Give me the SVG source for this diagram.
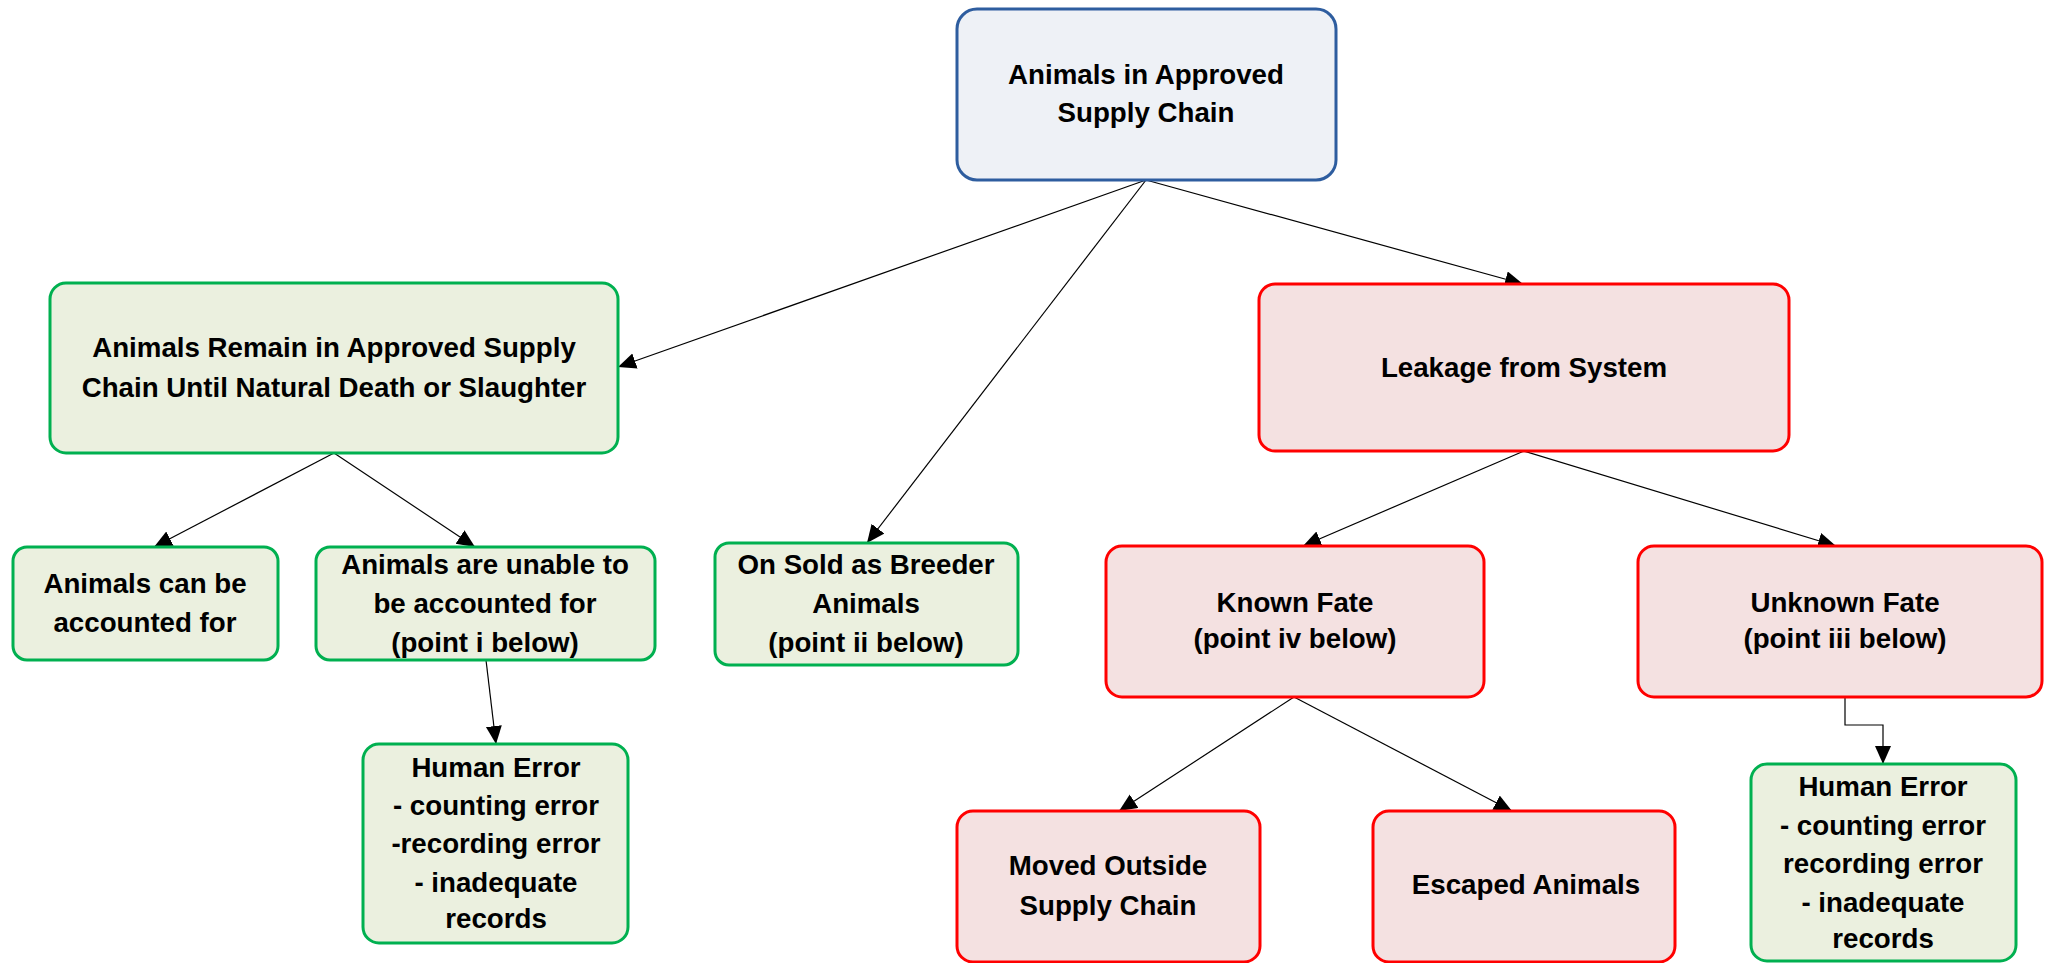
<svg xmlns="http://www.w3.org/2000/svg" width="2045" height="963" viewBox="0 0 2045 963">
<style>
.t{font-family:"Liberation Sans",Arial,sans-serif;font-weight:bold;font-size:27.7px;fill:#000;text-anchor:middle}
.blue{fill:#EEF1F6;stroke:#2E5D9F;stroke-width:3}
.green{fill:#EBF0DF;stroke:#00B050;stroke-width:3}
.red{fill:#F4E1E1;stroke:#FF0000;stroke-width:3}
.c{fill:none;stroke:#000;stroke-width:1.2;marker-end:url(#ah)}
</style>
<defs>
<marker id="ah" markerUnits="userSpaceOnUse" markerWidth="20" markerHeight="18" refX="18" refY="8" orient="auto">
<path d="M0,0 L18,8 L0,16 z" fill="#000"/>
</marker>
</defs>
<rect width="2045" height="963" fill="#fff"/>
<g id="connectors">
<line class="c" x1="1146" y1="180" x2="618" y2="367"/>
<line class="c" x1="1146" y1="180" x2="867" y2="543"/>
<line class="c" x1="1146" y1="180" x2="1523" y2="284"/>
<line class="c" x1="334" y1="453" x2="154" y2="547"/>
<line class="c" x1="334" y1="453" x2="475" y2="547"/>
<line class="c" x1="486" y1="660" x2="496" y2="744"/>
<line class="c" x1="1524" y1="451" x2="1303" y2="546"/>
<line class="c" x1="1524" y1="451" x2="1836" y2="546"/>
<line class="c" x1="1294" y1="697" x2="1119" y2="811"/>
<line class="c" x1="1294" y1="697" x2="1512" y2="811"/>
<polyline class="c" points="1845,697 1845,725 1883,725 1883,764"/>
</g>
<g id="n-top">
<rect class="blue" x="957" y="9" width="379" height="171" rx="20"/>
<text class="t" x="1146" y="84">Animals in Approved</text>
<text class="t" x="1146" y="122">Supply Chain</text>
</g>
<g id="n-remain">
<rect class="green" x="50" y="283" width="568" height="170" rx="16"/>
<text class="t" x="334" y="357">Animals Remain in Approved Supply</text>
<text class="t" x="334" y="397">Chain Until Natural Death or Slaughter</text>
</g>
<g id="n-leakage">
<rect class="red" x="1259" y="284" width="530" height="167" rx="16"/>
<text class="t" x="1524" y="377">Leakage from System</text>
</g>
<g id="n-can">
<rect class="green" x="13" y="547" width="265" height="113" rx="14"/>
<text class="t" x="145" y="593">Animals can be</text>
<text class="t" x="145" y="632">accounted for</text>
</g>
<g id="n-unable">
<rect class="green" x="316" y="547" width="339" height="113" rx="14"/>
<text class="t" x="485" y="574">Animals are unable to</text>
<text class="t" x="485" y="613">be accounted for</text>
<text class="t" x="485" y="652">(point i below)</text>
</g>
<g id="n-breeder">
<rect class="green" x="715" y="543" width="303" height="122" rx="14"/>
<text class="t" x="866" y="574">On Sold as Breeder</text>
<text class="t" x="866" y="613">Animals</text>
<text class="t" x="866" y="652">(point ii below)</text>
</g>
<g id="n-known">
<rect class="red" x="1106" y="546" width="378" height="151" rx="16"/>
<text class="t" x="1295" y="612">Known Fate</text>
<text class="t" x="1295" y="648">(point iv below)</text>
</g>
<g id="n-unknown">
<rect class="red" x="1638" y="546" width="404" height="151" rx="16"/>
<text class="t" x="1845" y="612">Unknown Fate</text>
<text class="t" x="1845" y="648">(point iii below)</text>
</g>
<g id="n-human1">
<rect class="green" x="363" y="744" width="265" height="199" rx="16"/>
<text class="t" x="496" y="777">Human Error</text>
<text class="t" x="496" y="815"> - counting error</text>
<text class="t" x="496" y="853">-recording error</text>
<text class="t" x="496" y="892">- inadequate</text>
<text class="t" x="496" y="928">records</text>
</g>
<g id="n-moved">
<rect class="red" x="957" y="811" width="303" height="151" rx="16"/>
<text class="t" x="1108" y="875">Moved Outside</text>
<text class="t" x="1108" y="915">Supply Chain</text>
</g>
<g id="n-escaped">
<rect class="red" x="1373" y="811" width="302" height="151" rx="16"/>
<text class="t" x="1526" y="894">Escaped Animals</text>
</g>
<g id="n-human2">
<rect class="green" x="1751" y="764" width="265" height="197" rx="16"/>
<text class="t" x="1883" y="796">Human Error</text>
<text class="t" x="1883" y="835"> - counting error</text>
<text class="t" x="1883" y="873">recording error</text>
<text class="t" x="1883" y="912">- inadequate</text>
<text class="t" x="1883" y="948">records</text>
</g>
</svg>
